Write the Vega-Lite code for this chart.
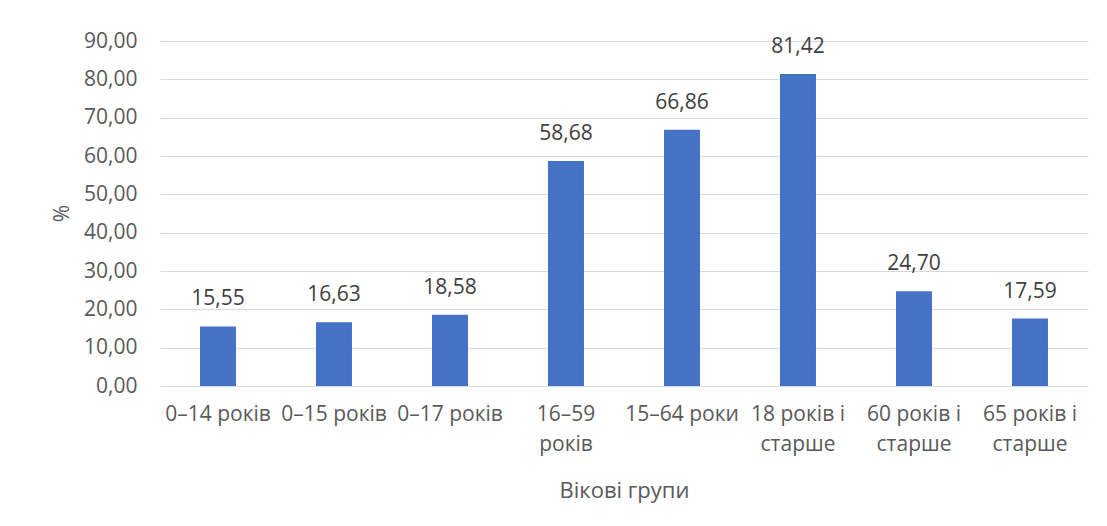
{
  "$schema": "https://vega.github.io/schema/vega-lite/v6.json",
  "width": 928,
  "height": 345,
  "autosize": {"type": "none"},
  "padding": {"left": 160, "top": 41, "right": 19, "bottom": 140},
  "background": "white",
  "config": {
    "locale": {"number": {"decimal": ",", "thousands": " ", "grouping": [3], "currency": ["", " грн"]}},
    "font": "Open Sans",
    "view": {"stroke": null},
    "axis": {"labelFont": "Open Sans", "titleFont": "Open Sans"}
  },
  "data": {
    "values": [
      {"group": "0–14 років", "value": 15.55},
      {"group": "0–15 років", "value": 16.63},
      {"group": "0–17 років", "value": 18.58},
      {"group": "16–59|років", "value": 58.68},
      {"group": "15–64 роки", "value": 66.86},
      {"group": "18 років і|старше", "value": 81.42},
      {"group": "60 років і|старше", "value": 24.70},
      {"group": "65 років і|старше", "value": 17.59}
    ]
  },
  "encoding": {
    "x": {
      "field": "group",
      "type": "nominal",
      "sort": null,
      "scale": {"paddingInner": 0.69, "paddingOuter": 0.345},
      "axis": {
        "title": "Вікові групи",
        "labelAngle": 0,
        "labelExpr": "split(datum.label, '|')",
        "labelFontSize": 21,
        "labelColor": "#595959",
        "labelLineHeight": 30,
        "labelPadding": 17,
        "labelBaseline": "top",
        "ticks": false,
        "tickSize": 0,
        "domain": false,
        "grid": false,
        "titleFontSize": 22,
        "titleFontWeight": "normal",
        "titleColor": "#595959",
        "titleY": 104,
        "titleBaseline": "middle"
      }
    },
    "y": {
      "field": "value",
      "type": "quantitative",
      "scale": {"domain": [0, 90]},
      "axis": {
        "title": "%",
        "values": [0, 10, 20, 30, 40, 50, 60, 70, 80, 90],
        "format": ".2f",
        "labelFontSize": 21,
        "labelColor": "#595959",
        "labelPadding": 23,
        "ticks": false,
        "tickSize": 0,
        "domain": false,
        "grid": true,
        "gridColor": "#D9D9D9",
        "gridWidth": 1,
        "titleFontSize": 21,
        "titleFontWeight": "normal",
        "titleColor": "#595959",
        "titleX": -98,
        "titleY": 172,
        "titleAlign": "center",
        "titleBaseline": "middle"
      }
    }
  },
  "layer": [
    {"mark": {"type": "bar", "color": "#4472C4"}},
    {
      "mark": {"type": "text", "dy": -27, "baseline": "middle", "fontSize": 21, "color": "#404040"},
      "encoding": {"text": {"field": "value", "type": "quantitative", "format": ".2f"}}
    }
  ]
}
